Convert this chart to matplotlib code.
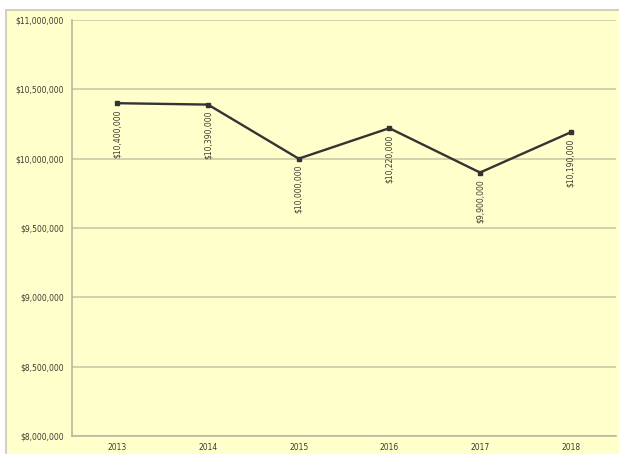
import matplotlib.pyplot as plt
import matplotlib.patches as patches
from matplotlib.ticker import FuncFormatter

years = ['2013', '2014', '2015', '2016', '2017', '2018']
revenue = [10400000, 10390000, 10000000, 10220000, 9900000, 10190000]
y_ticks = [8000000, 8500000, 9000000, 9500000, 10000000, 10500000, 11000000]

BG = '#ffffcc'
GRID = '#c9c9a6'
TEXT = '#3c3c30'


def money(v, pos=None):
    return f'${v:,.0f}'


def main():
    W, H = 619, 454
    fig = plt.figure(figsize=(W / 100, H / 100), dpi=100)
    fig.patch.set_facecolor('white')

    # chart area background, framed only on the left / top (runs off the canvas elsewhere)
    frame = patches.Rectangle((6 / W, -0.05), 1.0, 1.05 - 10 / H,
                              transform=fig.transFigure, facecolor=BG,
                              edgecolor='#d2d2b8', linewidth=1.5, zorder=-10)
    fig.patches.append(frame)

    ax = fig.add_axes([72 / W, (H - 436) / H, (616 - 72) / W, (436 - 20) / H])
    ax.set_facecolor(BG)

    x = list(range(len(years)))
    ax.plot(x, revenue, color='#333333', linewidth=1.7, marker='s',
            markersize=3, zorder=3)

    for xi, v in zip(x, revenue):
        ax.text(xi, v - 45000, money(v), rotation=90, ha='center', va='top',
                fontsize=5.5, color=TEXT, zorder=4)

    ax.set_xlim(-0.5, len(years) - 0.5)
    ax.set_ylim(y_ticks[0], y_ticks[-1])
    ax.set_xticks(x)
    ax.set_xticklabels(years)
    ax.set_yticks(y_ticks)
    ax.yaxis.set_major_formatter(FuncFormatter(money))

    ax.grid(axis='y', color=GRID, linewidth=1.2)
    ax.set_axisbelow(True)
    for s in ['top', 'right']:
        ax.spines[s].set_visible(False)
    for s in ['left', 'bottom']:
        ax.spines[s].set_color('#b8b8a0')
        ax.spines[s].set_linewidth(1.2)

    ax.tick_params(axis='both', length=0, labelsize=5.5, labelcolor=TEXT)
    ax.tick_params(axis='y', pad=6)
    ax.tick_params(axis='x', pad=5)

    fig.savefig('out.png', dpi=100, facecolor=fig.get_facecolor())


if __name__ == '__main__':
    main()
